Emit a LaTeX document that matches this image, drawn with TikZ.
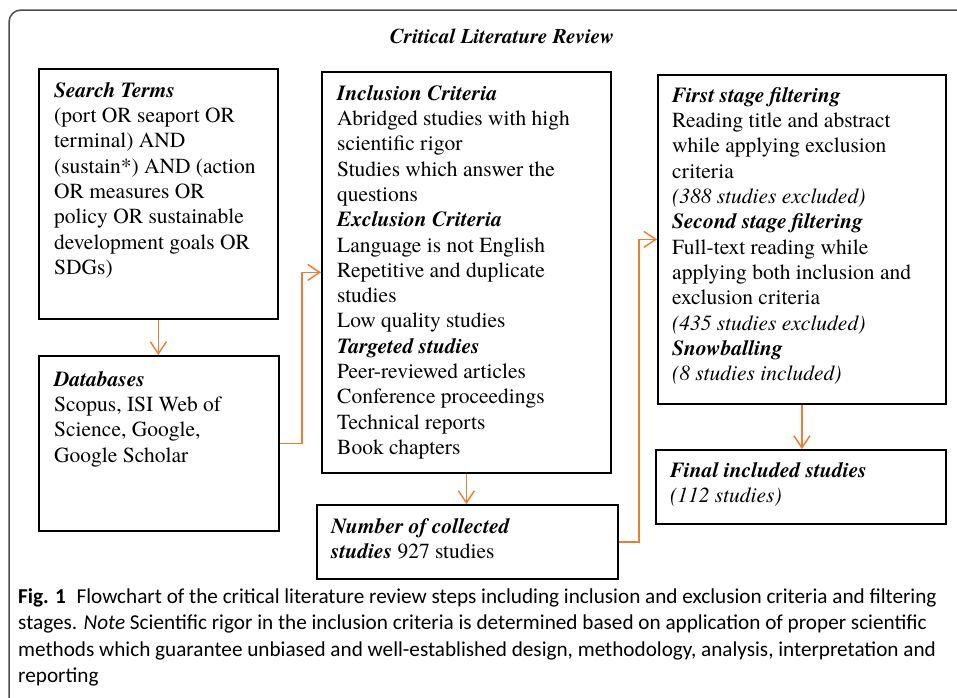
\documentclass[tikz,border=0pt]{standalone}
\usepackage{fontspec}
\setmainfont{texgyretermes}[Extension=.otf, UprightFont=*-regular, BoldFont=*-bold, ItalicFont=*-italic, BoldItalicFont=*-bolditalic]
\newfontfamily\capfont{Carlito}
\usetikzlibrary{arrows.meta}
\definecolor{arrorange}{HTML}{ED7D31}
\definecolor{framegray}{HTML}{4D4D4D}
\tikzset{
  box/.style={draw=black, line width=1.8pt, anchor=north west, inner sep=0pt},
  txt/.style={anchor=north west, inner sep=0pt, align=left,
    font=\fontsize{21.5}{25.3}\selectfont},
  arr/.style={draw=arrorange, line width=1.4pt,
    -{Straight Barb[length=12pt,width=16pt,line width=1.4pt]}}
}
\newcommand{\hd}[1]{\textbf{\textit{#1}}}
\begin{document}
\begin{tikzpicture}[x=1pt,y=-1pt]
\useasboundingbox (0,0) rectangle (957,697);
\clip (0,0) rectangle (957,697);
\fill[white] (0,0) rectangle (957,697);
% outer frame
\draw[framegray, line width=1.5pt, rounded corners=12pt] (980,10) -- (9,10) -- (9,720);
% title
\node[font=\bfseries\itshape\fontsize{21}{25}\selectfont] (title) at (502,36) {Critical Literature Review};
% boxes
\node[box, minimum width=239pt, minimum height=250pt] (search) at (38,68) {};
\node[box, minimum width=240pt, minimum height=175pt] (db) at (38,355) {};
\node[box, minimum width=289pt, minimum height=401pt] (incl) at (321,71) {};
\node[box, minimum width=301pt, minimum height=74pt] (num) at (316,504) {};
\node[box, minimum width=288pt, minimum height=329pt] (first) at (657,74) {};
\node[box, minimum width=290pt, minimum height=74pt] (final) at (655,449) {};
% texts
\node[txt] (searchT) at ([xshift=16pt,yshift=-14pt]search.north west) {\hd{Search Terms}\\
(port OR seaport OR\\ terminal) AND\\ (sustain*) AND (action\\ OR measures OR\\ policy OR sustainable\\ development goals OR\\ SDGs)};
\node[txt] (dbT) at ([xshift=16pt,yshift=-16pt]db.north west) {\hd{Databases}\\
Scopus, ISI Web of\\ Science, Google,\\ Google Scholar};
\node[txt] (inclT) at ([xshift=16pt,yshift=-14pt]incl.north west) {\hd{Inclusion Criteria}\\
Abridged studies with high\\ scientific rigor\\ Studies which answer the\\ questions\\
\hd{Exclusion Criteria}\\ Language is not English\\ Repetitive and duplicate\\ studies\\ Low quality studies\\
\hd{Targeted studies}\\ Peer-reviewed articles\\ Conference proceedings\\ Technical reports\\ Book chapters};
\node[txt] (numT) at ([xshift=15pt,yshift=-14pt]num.north west) {\hd{Number of collected}\\ \hd{studies} 927 studies};
\node[txt] (firstT) at ([xshift=15pt,yshift=-13pt]first.north west) {\hd{First stage filtering}\\
Reading title and abstract\\ while applying exclusion\\ criteria\\ \textit{(388 studies excluded)}\\
\hd{Second stage filtering}\\ Full-text reading while\\ applying both inclusion and\\ exclusion criteria\\ \textit{(435 studies excluded)}\\
\hd{Snowballing}\\ \textit{(8 studies included)}};
\node[txt] (finalT) at ([xshift=15pt,yshift=-13pt]final.north west) {\hd{Final included studies}\\ \textit{(112 studies)}};
% connectors
\draw[arr] (search.south) -- (search.south |- db.north);
\draw[arr] (db.east) -- ++(22,0) |- (incl.west);
\draw[arr] (incl.south) -- (incl.south |- num.north);
\draw[arr] (num.east) -- ++(20,0) |- (first.west);
\draw[arr] (first.south) -- (first.south |- final.north);
% caption
\node[anchor=north west, inner sep=0pt, align=left,
  font=\capfont\fontsize{21.2}{26.5}\selectfont] (cap) at (18,588)
{\textbf{Fig. 1}\enspace Flowchart of the critical literature review steps including inclusion and exclusion criteria and filtering\\
stages. \textit{Note} Scientific rigor in the inclusion criteria is determined based on application of proper scientific\\
methods which guarantee unbiased and well-established design, methodology, analysis, interpretation and\\
reporting};
\end{tikzpicture}
\end{document}
